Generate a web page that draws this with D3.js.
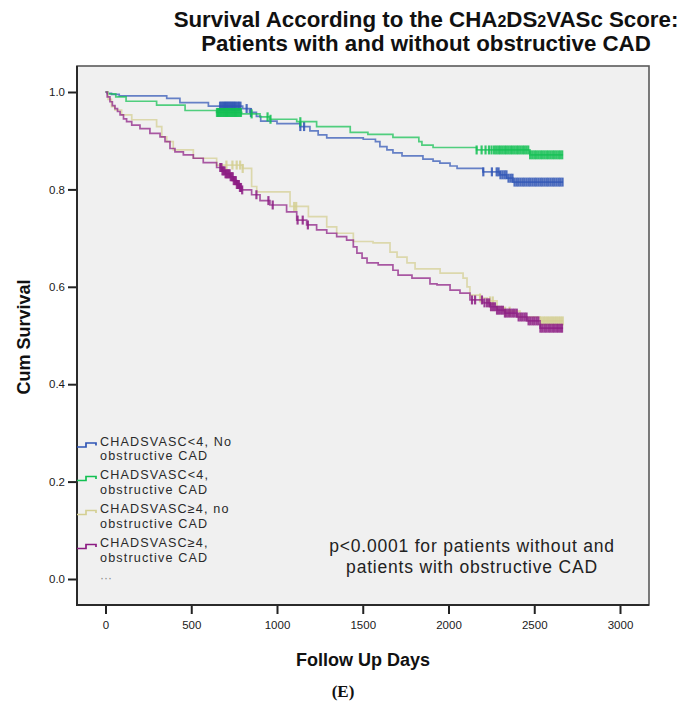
<!DOCTYPE html>
<html>
<head>
<meta charset="utf-8">
<script src="https://cdn.jsdelivr.net/npm/d3@7"></script>
<style>
  html, body { margin: 0; padding: 0; background: #fff; }
  svg { display: block; font-family: "Liberation Sans", Arial, sans-serif; }
</style>
</head>
<body>
<svg id="chart" width="686" height="708"></svg>
<script>
// Kaplan-Meier survival by CHA2DS2VASc group and obstructive CAD status

const xTicks = [0, 500, 1000, 1500, 2000, 2500, 3000];
const yTicks = [0.0, 0.2, 0.4, 0.6, 0.8, 1.0];

const groupNames = [
  ["CHADSVASC<4, No", "obstructive CAD"],
  ["CHADSVASC<4,", "obstructive CAD"],
  ["CHADSVASC\u22654, no", "obstructive CAD"],
  ["CHADSVASC\u22654,", "obstructive CAD"]
];

// Step points: day of each drop and the survival after it
const blueDays = [0, 10, 35, 80, 357, 434, 600, 800, 840, 880, 905, 1000, 1134, 1192, 1240, 1290, 1503, 1574, 1600, 1641, 1676, 1729, 1851, 1910, 1950, 2009, 2050, 2201, 2300, 2340, 2376, 2668];
const blueSurv = [1.000, 0.997, 0.995, 0.992, 0.987, 0.978, 0.971, 0.966, 0.958, 0.950, 0.940, 0.935, 0.929, 0.920, 0.912, 0.906, 0.903, 0.898, 0.888, 0.881, 0.875, 0.869, 0.862, 0.858, 0.854, 0.848, 0.843, 0.836, 0.830, 0.823, 0.815, 0.815];

const greenDays = [0, 15, 60, 120, 298, 464, 648, 794, 901, 959, 1115, 1231, 1427, 1530, 1676, 1827, 1845, 1910, 2164, 2475, 2668];
const greenSurv = [1.000, 0.996, 0.990, 0.981, 0.973, 0.962, 0.958, 0.955, 0.949, 0.944, 0.939, 0.929, 0.917, 0.913, 0.907, 0.898, 0.891, 0.886, 0.881, 0.871, 0.871];

const yellowDays = [0, 15, 35, 55, 94, 153, 298, 328, 357, 395, 512, 648, 800, 852, 882, 1076, 1183, 1290, 1348, 1445, 1560, 1659, 1700, 1758, 1805, 1951, 2085, 2108, 2125, 2184, 2225, 2283, 2318, 2417, 2534, 2668];
const yellowSurv = [1.000, 0.985, 0.970, 0.963, 0.953, 0.943, 0.929, 0.908, 0.898, 0.881, 0.864, 0.850, 0.843, 0.806, 0.795, 0.765, 0.744, 0.723, 0.710, 0.693, 0.690, 0.671, 0.661, 0.649, 0.637, 0.628, 0.618, 0.600, 0.583, 0.577, 0.571, 0.559, 0.550, 0.538, 0.530, 0.530];

const purpleDays = [0, 10, 26, 40, 55, 70, 85, 105, 123, 153, 201, 259, 318, 347, 376, 405, 454, 512, 570, 648, 680, 700, 726, 745, 765, 780, 797, 852, 901, 959, 1056, 1115, 1173, 1231, 1290, 1348, 1406, 1445, 1466, 1496, 1525, 1590, 1676, 1706, 1787, 1892, 1933, 2009, 2067, 2125, 2201, 2242, 2283, 2329, 2399, 2458, 2534, 2668];
const purpleSurv = [1.000, 0.990, 0.980, 0.972, 0.966, 0.960, 0.953, 0.945, 0.939, 0.932, 0.925, 0.915, 0.908, 0.898, 0.884, 0.877, 0.871, 0.864, 0.855, 0.845, 0.838, 0.832, 0.826, 0.818, 0.810, 0.804, 0.799, 0.789, 0.777, 0.768, 0.754, 0.737, 0.727, 0.717, 0.710, 0.703, 0.696, 0.682, 0.669, 0.659, 0.649, 0.645, 0.634, 0.624, 0.618, 0.606, 0.604, 0.593, 0.587, 0.573, 0.567, 0.559, 0.552, 0.546, 0.538, 0.530, 0.515, 0.515];

// Censored observations (days)
const blueCensor = [668, 676, 683, 690, 697, 703, 710, 716, 723, 729, 736, 742, 749, 756, 763, 771, 779, 787, 823, 848, 1136, 1158, 2203, 2253, 2281, 2292, 2303, 2315, 2327, 2338, 2350, 2362, 2373, 2385, 2397, 2408, 2420, 2432, 2443, 2455, 2467, 2478, 2490, 2502, 2513, 2525, 2537, 2548, 2560, 2572, 2583, 2595, 2607, 2618, 2630, 2642, 2653, 2665];
const greenCensor = [650, 657, 663, 670, 676, 683, 689, 696, 702, 709, 715, 722, 728, 735, 741, 748, 754, 761, 768, 775, 782, 790, 852, 945, 962, 1136, 2164, 2193, 2216, 2236, 2251, 2266, 2278, 2290, 2301, 2313, 2325, 2336, 2348, 2360, 2371, 2383, 2395, 2406, 2418, 2430, 2441, 2453, 2465, 2476, 2488, 2500, 2511, 2523, 2535, 2546, 2558, 2570, 2581, 2593, 2605, 2616, 2628, 2640, 2651, 2663];
const yellowCensor = [705, 740, 765, 785, 800, 1100, 1112, 2184, 2242, 2258, 2330, 2356, 2540, 2552, 2563, 2575, 2586, 2598, 2609, 2621, 2632, 2644, 2655, 2666];
const purpleCensor = [669, 676, 682, 688, 694, 700, 706, 712, 718, 724, 730, 736, 742, 748, 754, 760, 766, 772, 778, 784, 790, 797, 880, 950, 975, 1120, 1150, 1180, 2137, 2155, 2195, 2210, 2225, 2237, 2248, 2260, 2271, 2283, 2294, 2306, 2317, 2329, 2340, 2352, 2363, 2375, 2386, 2398, 2409, 2421, 2432, 2444, 2455, 2467, 2478, 2490, 2501, 2513, 2524, 2536, 2547, 2559, 2570, 2582, 2593, 2605, 2616, 2628, 2639, 2651, 2662];

const groupColors = ["#2f55b5", "#12c052", "#d4cf92", "#8c1c83"];

const groups = [
  { days: blueDays, surv: blueSurv, censor: blueCensor },
  { days: greenDays, surv: greenSurv, censor: greenCensor },
  { days: yellowDays, surv: yellowSurv, censor: yellowCensor },
  { days: purpleDays, surv: purpleSurv, censor: purpleCensor }
];

// Layout
const frame = { left: 77, top: 66, right: 649, bottom: 605 };
const svg = d3.select("#chart");

const x = d3.scaleLinear().domain([0, 3000]).range([105.5, 620]);
const y = d3.scaleLinear().domain([0, 1]).range([579, 92]);

// Title
const title = svg.append("g")
  .attr("font-weight", "bold")
  .attr("font-size", 22.3)
  .attr("fill", "#111")
  .attr("text-anchor", "middle");
const t1 = title.append("text").attr("x", 426).attr("y", 27);
t1.append("tspan").text("Survival According to the CHA");
t1.append("tspan").attr("font-size", 16).text("2");
t1.append("tspan").text("DS");
t1.append("tspan").attr("font-size", 16).text("2");
t1.append("tspan").text("VASc Score:");
title.append("text").attr("x", 426).attr("y", 51)
  .text("Patients with and without obstructive CAD");

// Plot panel
svg.append("rect")
  .attr("x", frame.left).attr("y", frame.top)
  .attr("width", frame.right - frame.left)
  .attr("height", frame.bottom - frame.top)
  .attr("fill", "#f0f0f0")
  .attr("stroke", "#5a5a5a")
  .attr("stroke-width", 1.6);

// Axes
const xAxis = svg.append("g")
  .attr("transform", `translate(0,${frame.bottom})`)
  .call(d3.axisBottom(x).tickValues(xTicks).tickSize(9).tickPadding(7).tickFormat(d3.format("d")));
const yAxis = svg.append("g")
  .attr("transform", `translate(${frame.left},0)`)
  .call(d3.axisLeft(y).tickValues(yTicks).tickSize(9).tickPadding(3).tickFormat(d3.format(".1f")));
[xAxis, yAxis].forEach(a => {
  a.select(".domain").remove();
  a.selectAll(".tick line").attr("stroke", "#222").attr("stroke-width", 2);
  a.selectAll(".tick text")
    .attr("font-family", "'Liberation Sans', Arial, sans-serif")
    .attr("font-size", 11.5).attr("fill", "#1a1a1a");
});
// Axis lines on the left and bottom sides of the panel
svg.append("path")
  .attr("d", `M${frame.left},${frame.top} V${frame.bottom} H${frame.right}`)
  .attr("fill", "none").attr("stroke", "#2a2a2a").attr("stroke-width", 2);

// Axis titles
svg.append("text")
  .attr("transform", "translate(30,337) rotate(-90)")
  .attr("text-anchor", "middle").attr("font-weight", "bold")
  .attr("font-size", 18).attr("fill", "#111")
  .text("Cum Survival");
svg.append("text")
  .attr("x", 363).attr("y", 666)
  .attr("text-anchor", "middle").attr("font-weight", "bold")
  .attr("font-size", 18).attr("fill", "#111")
  .text("Follow Up Days");

// Survival curves
const line = d3.line()
  .x(d => x(d[0]))
  .y(d => y(d[1]))
  .curve(d3.curveStepAfter);

const survAt = (g, day) => {
  const i = d3.bisectRight(g.days, day) - 1;
  return g.surv[Math.max(0, i)];
};

groups.forEach((g, k) => {
  const pts = g.days.map((d, i) => [d, g.surv[i]]);
  const layer = svg.append("g");
  layer.append("path")
    .attr("d", line(pts))
    .attr("fill", "none")
    .attr("stroke", groupColors[k])
    .attr("stroke-opacity", 0.72)
    .attr("stroke-width", 1.7);
  layer.selectAll("line.censor")
    .data(g.censor)
    .join("line")
    .attr("class", "censor")
    .attr("x1", d => x(d)).attr("x2", d => x(d))
    .attr("y1", d => y(survAt(g, d)) - 4.5)
    .attr("y2", d => y(survAt(g, d)) + 4.5)
    .attr("stroke", groupColors[k])
    .attr("stroke-opacity", 0.85)
    .attr("stroke-width", 2.2);
});

// Legend
const legend = svg.append("g")
  .attr("font-size", 12.6)
  .attr("letter-spacing", 1.15)
  .attr("fill", "#2a2a2a");
const legendBase = [445.5, 479, 513, 547];
groupNames.forEach((lines, k) => {
  const b = legendBase[k];
  legend.append("path")
    .attr("d", `M77,${b + 1.5} H86 V${b - 2.5} H96 V${b}`)
    .attr("fill", "none")
    .attr("stroke", groupColors[k])
    .attr("stroke-width", 1.7);
  legend.append("text").attr("x", 100).attr("y", b).text(lines[0]);
  legend.append("text").attr("x", 100).attr("y", b + 14.6).text(lines[1]);
});
legend.append("text").attr("x", 100).attr("y", 582)
  .attr("fill", "#888").attr("font-size", 12).attr("letter-spacing", 0).text("\u00b7\u00b7\u00b7");

// Log-rank annotation
const note = svg.append("g")
  .attr("font-size", 17.5)
  .attr("letter-spacing", 0.8)
  .attr("fill", "#222")
  .attr("text-anchor", "middle");
note.append("text").attr("x", 472).attr("y", 552).text("p<0.0001 for patients without and");
note.append("text").attr("x", 472).attr("y", 573).text("patients with obstructive CAD");

// Panel label
svg.append("text")
  .attr("x", 343).attr("y", 697)
  .attr("text-anchor", "middle")
  .attr("font-family", "'Liberation Serif', 'Times New Roman', serif")
  .attr("font-weight", "bold").attr("font-size", 17).attr("fill", "#111")
  .text("(E)");
</script>
</body>
</html>
